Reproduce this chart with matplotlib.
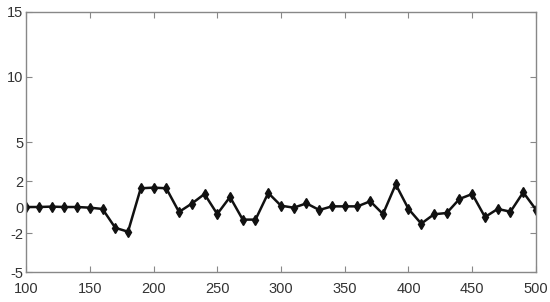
import matplotlib.pyplot as plt

x_values = list(range(100, 501, 10))
y_values = [
    0.0, 0.0, 0.03, 0.0, 0.0, -0.05, -0.15, -1.6, -1.9, 1.44,
    1.49, 1.44, -0.38, 0.26, 1.0, -0.54, 0.77, -0.97, -0.97, 1.08,
    0.1, -0.05, 0.28, -0.23, 0.05, 0.05, 0.05, 0.44, -0.54, 1.74,
    -0.15, -1.28, -0.56, -0.46, 0.62, 1.0, -0.77, -0.15, -0.36, 1.13,
    -0.2,
]
x_ticks = [100, 150, 200, 250, 300, 350, 400, 450, 500]
y_ticks = [-5, -2, 0, 2, 5, 10, 15]

plt.rcParams["font.family"] = ["Liberation Sans", "DejaVu Sans"]
plt.rcParams["axes.unicode_minus"] = False

fig = plt.figure(figsize=(5.5, 3.02), dpi=100)
ax = fig.add_axes([0.0473, 0.0993, 0.9272, 0.861])

ax.plot(x_values, y_values, color="#111111", linewidth=1.8,
        marker="d", markersize=5, markerfacecolor="#111111",
        markeredgecolor="#111111")

ax.set_xlim(100, 500)
ax.set_ylim(-5, 15)
ax.set_xticks(x_ticks)
ax.set_yticks(y_ticks)
ax.tick_params(direction="in", top=True, right=True, length=4,
               color="#888888", labelcolor="#333333", labelsize=10.5)
ax.tick_params(axis="x", pad=7)
ax.tick_params(axis="y", pad=2)
for spine in ax.spines.values():
    spine.set_color("#888888")
    spine.set_linewidth(1.0)

fig.savefig("out.png", dpi=100)
